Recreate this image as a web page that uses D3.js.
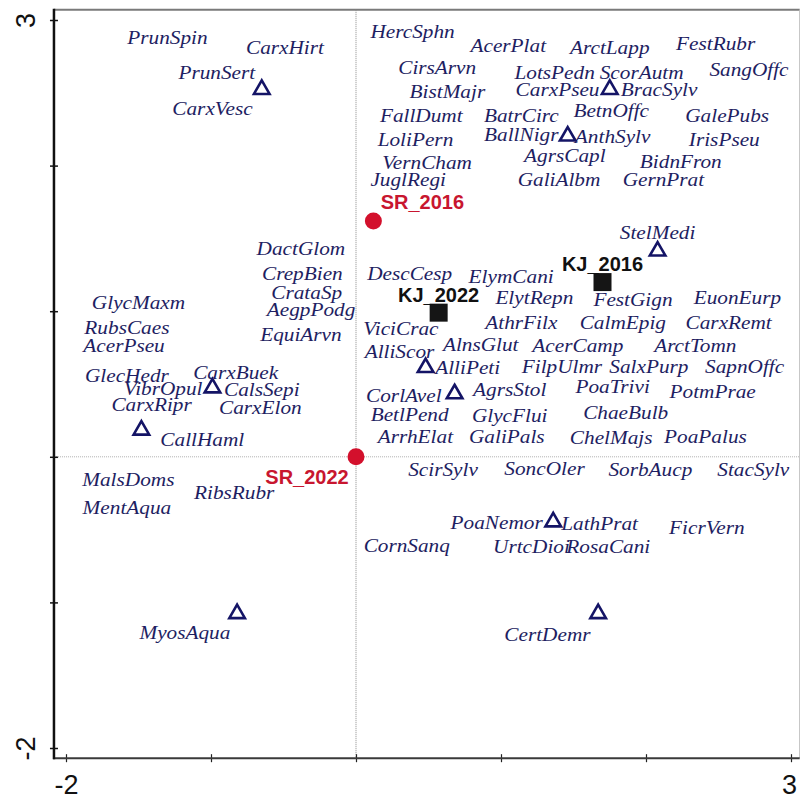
<!DOCTYPE html>
<html>
<head>
<meta charset="utf-8">
<script src="https://cdn.jsdelivr.net/npm/d3@7"></script>
<style>
  html, body { margin: 0; padding: 0; background: #fff; }
  svg { display: block; }
</style>
</head>
<body>
<svg id="chart" width="800" height="801"></svg>
<script>
// Ordination diagram: species scores (labels), supplementary points (triangles),
// and sample scores (SR = circles, KJ = squares) on axes 1 and 2.

const speciesLabels = [
  "PrunSpin","CarxHirt","PrunSert","CarxVesc","HercSphn","AcerPlat","CirsArvn","LotsPedn",
  "ScorAutm","SangOffc","FestRubr","ArctLapp","BistMajr","CarxPseu","BracSylv","FallDumt",
  "BatrCirc","BetnOffc","GalePubs","LoliPern","BallNigr","AnthSylv","IrisPseu","AgrsCapl",
  "VernCham","BidnFron","JuglRegi","GaliAlbm","GernPrat","StelMedi","DactGlom","CrepBien",
  "CrataSp","AegpPodg","EquiArvn","DescCesp","ElymCani","ElytRepn","FestGign","EuonEurp",
  "GlycMaxm","RubsCaes","AcerPseu","ViciCrac","AthrFilx","CalmEpig","CarxRemt","AlliScor",
  "AlnsGlut","AcerCamp","ArctTomn","AlliPeti","FilpUlmr","SalxPurp","SapnOffc","GlecHedr",
  "CarxBuek","VibrOpul","CalsSepi","CorlAvel","AgrsStol","PoaTrivi","PotmPrae","CarxRipr",
  "CarxElon","BetlPend","GlycFlui","ChaeBulb","CallHaml","ArrhElat","GaliPals","ChelMajs",
  "PoaPalus","MalsDoms","MentAqua","RibsRubr","ScirSylv","SoncOler","SorbAucp","StacSylv",
  "PoaNemor","LathPrat","FicrVern","CornSanq","UrtcDioi","RosaCani","MyosAqua","CertDemr"
];
const speciesAx1 = [
  -1.30,-0.49,-0.96,-0.99, 0.39, 1.05, 0.56, 1.37,
   1.97, 2.71, 2.48, 1.75, 0.63, 1.39, 2.09, 0.45,
   1.14, 1.76, 2.56, 0.41, 1.14, 1.77, 2.54, 1.44,
   0.49, 2.24, 0.36, 1.40, 2.12, 2.08,-0.38,-0.37,
  -0.34,-0.31,-0.38, 0.37, 1.07, 1.23, 1.91, 2.63,
  -1.50,-1.58,-1.60, 0.31, 1.14, 1.84, 2.57, 0.30,
   0.86, 1.53, 2.34, 0.77, 1.42, 2.02, 2.68,-1.58,
  -0.83,-1.33,-0.65, 0.33, 1.06, 1.77, 2.46,-1.41,
  -0.66, 0.37, 1.06, 1.86,-1.06, 0.41, 1.04, 1.76,
   2.41,-1.57,-1.58,-0.84, 0.60, 1.30, 2.03, 2.74,
   0.97, 1.68, 2.42, 0.35, 1.21, 1.74,-1.18, 1.32
];
const speciesAx2 = [
   2.88, 2.81, 2.64, 2.39, 2.92, 2.82, 2.67, 2.64,
   2.64, 2.66, 2.84, 2.81, 2.51, 2.52, 2.52, 2.34,
   2.34, 2.38, 2.34, 2.18, 2.21, 2.20, 2.18, 2.07,
   2.02, 2.03, 1.90, 1.90, 1.90, 1.54, 1.43, 1.26,
   1.13, 1.01, 0.84, 1.26, 1.24, 1.09, 1.08, 1.09,
   1.06, 0.89, 0.76, 0.88, 0.92, 0.92, 0.92, 0.72,
   0.77, 0.76, 0.76, 0.61, 0.62, 0.62, 0.62, 0.56,
   0.58, 0.47, 0.46, 0.42, 0.46, 0.48, 0.45, 0.36,
   0.34, 0.29, 0.28, 0.30, 0.12, 0.14, 0.14, 0.13,
   0.14,-0.16,-0.35,-0.25,-0.09,-0.08,-0.09,-0.09,
  -0.45,-0.46,-0.49,-0.61,-0.62,-0.62,-1.21,-1.22
];

// Supplementary points drawn as open triangles
const suppAx1 = [-0.65, 1.75, 1.46, 2.08, -0.99, -1.48, 0.48, 0.68, 1.36, -0.82, 1.67];
const suppAx2 = [ 2.53, 2.53, 2.21, 1.42,  0.48,  0.19, 0.62, 0.44, -0.44, -1.07, -1.07];

// Sample scores
const sampleLabels = ["SR_2016", "SR_2022", "KJ_2016", "KJ_2022"];
const sampleGroup  = ["SR", "SR", "KJ", "KJ"];
const sampleAx1    = [0.12, 0.00, 1.70, 0.57];
const sampleAx2    = [1.62, 0.00, 1.20, 0.99];

// Axis ticks
const axisTicks = [-2, -1, 0, 1, 2, 3];
const labelledTicks = [-2, 3];

// ---- layout ----
const svg = d3.select("#chart");
const x = d3.scaleLinear().domain([-2, 3]).range([66, 791]);
const y = d3.scaleLinear().domain([-2, 3]).range([748, 20]);

// plotting frame extends slightly past the tick range
const frameX = [-2.083, 3.06];
const frameY = [-2.07, 3.07];
const fx0 = x(frameX[0]), fx1 = x(frameX[1]);
const fy0 = y(frameY[0]), fy1 = y(frameY[1]);

const navy = "#1e1e62";
const triColor = "#141466";
const red = "#d3102c";

// top and right frame edges
svg.append("line").attr("x1", fx0).attr("x2", fx1).attr("y1", fy1).attr("y2", fy1)
  .attr("stroke", "#7a7a7a").attr("stroke-width", 2);
svg.append("line").attr("x1", fx1).attr("x2", fx1).attr("y1", fy1).attr("y2", fy0)
  .attr("stroke", "#bbb").attr("stroke-width", 1);

// dotted zero lines
svg.append("line").attr("x1", x(0)).attr("x2", x(0)).attr("y1", fy1).attr("y2", fy0)
  .attr("stroke", "#8a8a8a").attr("stroke-width", 1).attr("stroke-dasharray", "1,1");
svg.append("line").attr("x1", fx0).attr("x2", fx1).attr("y1", y(0)).attr("y2", y(0))
  .attr("stroke", "#b0b0b0").attr("stroke-width", 1).attr("stroke-dasharray", "1,1");

// bottom axis
const xAxis = d3.axisBottom(x).tickValues(axisTicks).tickSize(4)
  .tickFormat(d => labelledTicks.includes(d) ? String(d) : "");
const gx = svg.append("g").attr("transform", `translate(0,${fy0})`).call(xAxis);
gx.select(".domain").remove();
gx.append("line").attr("x1", fx0 - 1).attr("x2", fx1).attr("y1", 0).attr("y2", 0)
  .attr("stroke", "#3a3a3a").attr("stroke-width", 2);
gx.selectAll(".tick line").attr("y1", -4).attr("y2", 4).attr("stroke", "#222").attr("stroke-width", 1.2);
gx.selectAll(".tick text").attr("y", 17).attr("dy", "0.71em")
  .attr("font-family", "Liberation Sans, Arial, sans-serif").attr("font-size", 27).attr("fill", "#111");
gx.selectAll(".tick").filter(d => d === 3).select("text").attr("x", -2);

// left axis
const yAxis = d3.axisLeft(y).tickValues(axisTicks).tickSize(4)
  .tickFormat(d => labelledTicks.includes(d) ? String(d) : "");
const gy = svg.append("g").attr("transform", `translate(${fx0},0)`).call(yAxis);
gy.select(".domain").remove();
gy.append("line").attr("x1", 0).attr("x2", 0).attr("y1", fy1 - 1).attr("y2", fy0 + 1)
  .attr("stroke", "#111").attr("stroke-width", 2.5);
gy.selectAll(".tick line").attr("x1", -4).attr("x2", 4).attr("stroke", "#111").attr("stroke-width", 1.5);
gy.selectAll(".tick text")
  .attr("x", null).attr("dy", null)
  .attr("text-anchor", "middle")
  .attr("transform", "translate(-28,0) rotate(-90) translate(0,9)")
  .attr("font-family", "Liberation Sans, Arial, sans-serif").attr("font-size", 27).attr("fill", "#111");

// species labels
const species = speciesLabels.map((name, i) => ({ name, a1: speciesAx1[i], a2: speciesAx2[i] }));
svg.append("g").selectAll("text").data(species).join("text")
  .attr("transform", d => `translate(${x(d.a1)},${y(d.a2)}) scale(1.12,1)`)
  .attr("text-anchor", "middle")
  .attr("dy", "0.33em")
  .attr("font-family", "Liberation Serif, 'Times New Roman', serif")
  .attr("font-style", "italic")
  .attr("font-size", 19)
  .attr("fill", navy)
  .text(d => d.name);

// supplementary triangles
const supp = suppAx1.map((a1, i) => ({ a1, a2: suppAx2[i] }));
const tri = d3.symbol().type(d3.symbolTriangle).size(105);
svg.append("g").selectAll("path").data(supp).join("path")
  .attr("transform", d => `translate(${x(d.a1)},${y(d.a2) + 1})`)
  .attr("d", tri)
  .attr("fill", "none")
  .attr("stroke", triColor)
  .attr("stroke-width", 2.6)
  .attr("stroke-linejoin", "miter");

// samples
const samples = sampleLabels.map((name, i) => ({ name, g: sampleGroup[i], a1: sampleAx1[i], a2: sampleAx2[i] }));
const labelOffset = { "SR_2016": [49, -19], "SR_2022": [-49, 20], "KJ_2016": [0, -18], "KJ_2022": [0, -18] };

const gs = svg.append("g");
gs.selectAll("circle").data(samples.filter(d => d.g === "SR")).join("circle")
  .attr("cx", d => x(d.a1)).attr("cy", d => y(d.a2)).attr("r", 8.5).attr("fill", red);
gs.selectAll("rect").data(samples.filter(d => d.g === "KJ")).join("rect")
  .attr("x", d => x(d.a1) - 9).attr("y", d => y(d.a2) - 9)
  .attr("width", 18).attr("height", 18).attr("fill", "#151515");
gs.selectAll("text").data(samples).join("text")
  .attr("x", d => x(d.a1) + labelOffset[d.name][0])
  .attr("y", d => y(d.a2) + labelOffset[d.name][1])
  .attr("dy", "0.35em")
  .attr("text-anchor", "middle")
  .attr("font-family", "Liberation Sans, Arial, sans-serif")
  .attr("font-weight", "bold")
  .attr("font-size", 20)
  .attr("fill", d => d.g === "SR" ? "#c8162f" : "#111")
  .text(d => d.name);
</script>
</body>
</html>
